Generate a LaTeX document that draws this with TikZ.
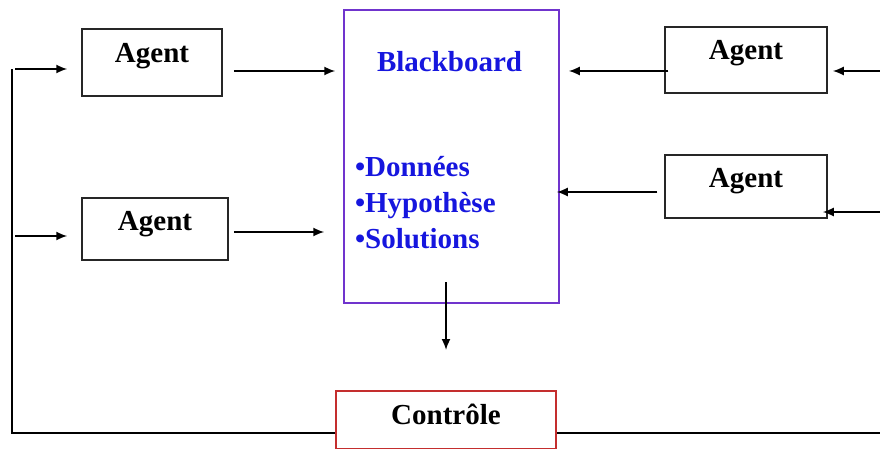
\documentclass[tikz,border=0pt]{standalone}
\usepackage{fontspec}
\setmainfont{Liberation Serif}
\usetikzlibrary{arrows.meta,calc}

\definecolor{bbblue}{RGB}{22,22,222}
\definecolor{bbpurple}{RGB}{112,52,205}
\definecolor{ctrlred}{RGB}{196,46,46}

\tikzset{
  lbl/.style={font=\fontsize{29}{36}\selectfont\bfseries},
  agentbox/.style={draw=black!85, line width=1.5pt, lbl, inner xsep=0pt, inner ysep=0pt,
    anchor=base},
  arr/.style={line width=1.7pt, -{Latex[length=11pt,width=9pt]}},
  wire/.style={line width=1.7pt}
}

\begin{document}
\begin{tikzpicture}[x=1pt,y=-1pt]
  \useasboundingbox (0,0) rectangle (880,449);

  % agents on the left
  \node[agentbox, minimum width=140pt, text height=34pt, text depth=33pt]
    (a1) at (152,63) {Agent};
  \node[agentbox, minimum width=146pt, text height=32pt, text depth=30pt]
    (a2) at (155,230) {Agent};

  % agents on the right
  \node[agentbox, minimum width=162pt, text height=33pt, text depth=33pt]
    (a3) at (746,60) {Agent};
  \node[agentbox, minimum width=162pt, text height=33pt, text depth=30pt]
    (a4) at (746,188) {Agent};

  % shared data store
  \node[draw=bbpurple, line width=1.5pt, lbl, text=bbblue, anchor=base,
        text width=215pt, align=left, inner xsep=0pt, inner ysep=0pt,
        text height=62pt, text depth=231pt]
    (bb) at (451.5,72)
    {\hspace*{33pt}Blackboard\\[69pt]
     \hspace*{11pt}•Données\\
     \hspace*{11pt}•Hypothèse\\
     \hspace*{11pt}•Solutions};

  % control unit
  \node[agentbox, draw=ctrlred, minimum width=220pt, text height=33pt, text depth=25pt]
    (ctrl) at (446,424) {Contrôle};

  % feedback loop from the control unit
  \coordinate (fl) at (12,69);
  \coordinate (fr) at (882,433);
  \draw[wire] (ctrl.west|-0,433) -| (fl);
  \draw[wire] (ctrl.east|-0,433) -- (fr);
  \draw[arr, shorten <=3pt, shorten >=14pt] (fl) -- (a1.west|-fl);
  \draw[arr, shorten <=3pt, shorten >=14pt] (fl|-0,236) -- (a2.west|-0,236);

  % agents writing to the blackboard
  \draw[arr, shorten <=11pt, shorten >=8pt] (a1.east|-0,71) -- (bb.west|-0,71);
  \draw[arr, shorten <=5pt, shorten >=19pt] (a2.east|-0,232) -- (bb.west|-0,232);
  \draw[arr, shorten <=-4pt, shorten >=9pt] (a3.west|-0,71) -- (bb.east|-0,71);
  \draw[arr, shorten <=7pt, shorten >=-3pt] (a4.west|-0,192) -- (bb.east|-0,192);

  % inputs arriving on the right
  \draw[arr, shorten >=5pt] (fr|-0,71) -- (a3.east|-0,71);
  \draw[arr, shorten >=-5pt] (fr|-0,212) -- (a4.east|-0,212);

  % blackboard to control
  \draw[arr] (ctrl.north|-0,282) -- (ctrl.north|-0,350);
\end{tikzpicture}
\end{document}
